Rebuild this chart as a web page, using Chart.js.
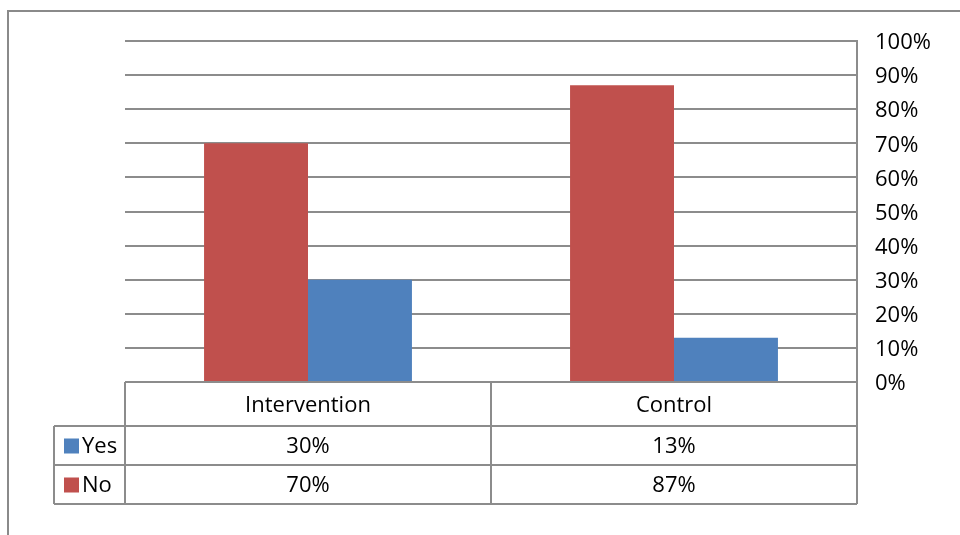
<!DOCTYPE html>
<html>
<head>
<meta charset="utf-8">
<script src="https://cdn.jsdelivr.net/npm/chart.js@4/dist/chart.umd.min.js"></script>
<style>
html,body{margin:0;padding:0;background:#fff;}
#wrap{width:960px;height:535px;position:relative;}
</style>
</head>
<body>
<div id="wrap"><canvas id="c" width="960" height="535"></canvas></div>
<script>
const categories = ['Intervention', 'Control'];
const seriesNames = ['Yes', 'No'];
const yesValues = [30, 13];
const noValues = [70, 87];
const yTickMax = 100;
const yTickStep = 10;

const RED = '#C0504D';
const BLUE = '#4F81BD';
const LINE = '#8c8c8c';
const FONT = '"Open Sans", "Noto Sans", sans-serif';
const FSIZE = 22;

const tablePlugin = {
  id: 'tablePlugin',
  beforeDraw(chart) {
    const ctx = chart.ctx;
    ctx.save();
    ctx.fillStyle = '#fff';
    ctx.fillRect(0, 0, chart.width, chart.height);
    ctx.strokeStyle = '#8a8a8a';
    ctx.lineWidth = 2;
    ctx.strokeRect(8, 11, chart.width + 20, chart.height + 20);
    ctx.restore();
  },
  afterDraw(chart) {
    const ctx = chart.ctx;
    const a = chart.chartArea;
    const xs = chart.scales.x;
    const left = a.left, right = a.right, top = a.bottom;
    const mid = (left + right) / 2;
    const labelLeft = left - 71;
    const rowY = [top, top + 44, top + 83, top + 122];
    ctx.save();
    ctx.strokeStyle = LINE;
    ctx.lineWidth = 2;
    ctx.beginPath();
    ctx.moveTo(left, rowY[0]); ctx.lineTo(right, rowY[0]);
    for (let i = 1; i < 4; i++) { ctx.moveTo(labelLeft, rowY[i]); ctx.lineTo(right, rowY[i]); }
    ctx.moveTo(left, rowY[0]); ctx.lineTo(left, rowY[3]);
    ctx.moveTo(mid, rowY[0]); ctx.lineTo(mid, rowY[3]);
    ctx.moveTo(right, a.top); ctx.lineTo(right, rowY[3]);
    ctx.moveTo(labelLeft, rowY[1]); ctx.lineTo(labelLeft, rowY[3]);
    ctx.stroke();

    ctx.fillStyle = '#000';
    ctx.font = FSIZE + 'px ' + FONT;
    ctx.textAlign = 'center';
    ctx.textBaseline = 'middle';
    categories.forEach((c, i) => {
      const cx = xs.getPixelForValue(i);
      ctx.fillText(c, cx, (rowY[0] + rowY[1]) / 2 + 2);
      ctx.fillText(yesValues[i] + '%', cx, (rowY[1] + rowY[2]) / 2 + 1);
      ctx.fillText(noValues[i] + '%', cx, (rowY[2] + rowY[3]) / 2 + 1);
    });
    const legend = [[seriesNames[0], BLUE], [seriesNames[1], RED]];
    legend.forEach((l, i) => {
      const cy = (rowY[i + 1] + rowY[i + 2]) / 2;
      ctx.fillStyle = l[1];
      ctx.fillRect(labelLeft + 10, cy - 7, 15, 15);
      ctx.fillStyle = '#000';
      ctx.textAlign = 'left';
      ctx.fillText(l[0], labelLeft + 28, cy + 1);
    });
    ctx.restore();
  }
};

new Chart(document.getElementById('c'), {
  type: 'bar',
  data: {
    labels: categories,
    datasets: [
      { label: seriesNames[1], data: noValues, backgroundColor: RED, borderWidth: 0 },
      { label: seriesNames[0], data: yesValues, backgroundColor: BLUE, borderWidth: 0 }
    ]
  },
  options: {
    responsive: false,
    animation: false,
    devicePixelRatio: 1,
    layout: { padding: { left: 125, top: 41, right: 0, bottom: 153 } },
    plugins: { legend: { display: false }, tooltip: { enabled: false } },
    datasets: { bar: { categoryPercentage: 0.568, barPercentage: 1 } },
    scales: {
      x: { display: false },
      y: {
        position: 'right',
        min: 0, max: yTickMax,
        afterFit(scale) { scale.width = 103; },
        ticks: {
          stepSize: yTickStep,
          padding: 18,
          labelOffset: 2,
          color: '#000',
          font: { family: FONT, size: FSIZE },
          callback: v => v + '%'
        },
        grid: { color: LINE, lineWidth: 2, drawTicks: false },
        border: { display: true, color: LINE, width: 2 }
      }
    }
  },
  plugins: [tablePlugin]
});
</script>
</body>
</html>
